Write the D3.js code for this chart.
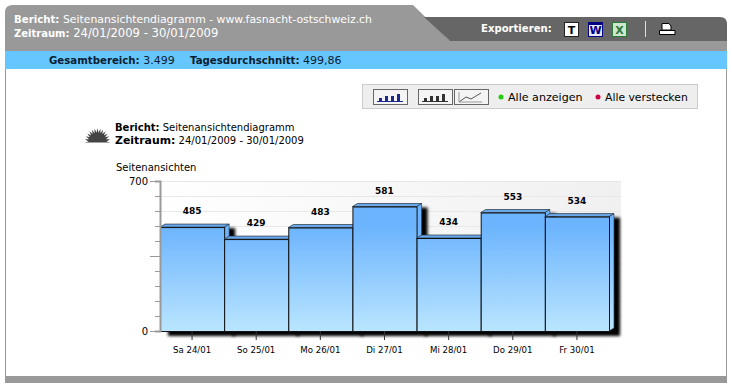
<!DOCTYPE html>
<html>
<head>
<meta charset="utf-8">
<script src="https://cdn.jsdelivr.net/npm/d3@7"></script>
<style>
html,body{margin:0;padding:0;background:#fff;overflow:hidden}
text{font-family:"DejaVu Sans",sans-serif;font-size:10px;fill:#000}
</style>
</head>
<body>
<div id="chart"></div>
<script>
// chart values
var days = ["Sa 24/01","So 25/01","Mo 26/01","Di 27/01","Mi 28/01","Do 29/01","Fr 30/01"];
var views = [485,429,483,581,434,553,534];
var yLabels = [0,700];
var yMajor = [0,350,700];
var yTicks = [0,70,140,210,280,350,420,490,560,630,700];

var W = 732, H = 389;
var svg = d3.select("#chart").append("svg").attr("width",W).attr("height",H);
var defs = svg.append("defs");

var barGrad = defs.append("linearGradient").attr("id","barGrad")
    .attr("gradientUnits","userSpaceOnUse")
    .attr("x1",0).attr("x2",0).attr("y1",181).attr("y2",331);
barGrad.append("stop").attr("offset","0.3").attr("stop-color","#6cb4fd");
barGrad.append("stop").attr("offset","1").attr("stop-color","#bae5ff");

var plotGrad = defs.append("linearGradient").attr("id","plotGrad");
plotGrad.append("stop").attr("offset","0").attr("stop-color","#ffffff");
plotGrad.append("stop").attr("offset","1").attr("stop-color","#f0f0f0");

var blur = defs.append("filter").attr("id","blur").attr("x","-15%").attr("y","-15%").attr("width","130%").attr("height","130%");
blur.append("feGaussianBlur").attr("stdDeviation",1.5);

// page frame
svg.append("rect").attr("x",5).attr("y",40).attr("width",722).attr("height",343).attr("fill","#999");
svg.append("rect").attr("x",6).attr("y",69).attr("width",720).attr("height",307).attr("fill","#fff");
svg.append("path").attr("d","M5 41V12Q5 5 13 5H413L450 41Z").attr("fill","#999");
svg.append("path").attr("d","M424 17H720Q727 17 727 24V41H450Z").attr("fill","#666");
svg.append("rect").attr("x",5).attr("y",51).attr("width",722).attr("height",18).attr("fill","#66c6ff");

function twoPart(g,x,y,bold,normal,boldSize,size,col){
    var t = g.append("text").attr("x",x).attr("y",y).style("fill",col);
    t.append("tspan").attr("font-weight","bold").style("font-size",boldSize+"px").text(bold);
    t.append("tspan").style("font-size",size+"px").text(" "+normal);
}
var head = svg.append("g");
twoPart(head,14,23,"Bericht:","Seitenansichtendiagramm - www.fasnacht-ostschweiz.ch",10.2,10.85,"#fff");
twoPart(head,14,37,"Zeitraum:","24/01/2009 - 30/01/2009",10,11.6,"#fff");
twoPart(head,49,64,"Gesamtbereich:","3.499",10.2,11,"#0a2030");
twoPart(head,190,64,"Tagesdurchschnitt:","499,86",10.2,11,"#0a2030");
head.append("text").attr("x",481).attr("y",32).attr("font-weight","bold").style("font-size","10.1px").style("fill","#fff").text("Exportieren:");

// export icons
function icon(x,fill,stroke,letter,col){
    svg.append("rect").attr("x",x+.5).attr("y",22.5).attr("width",14).attr("height",14).attr("fill",fill).attr("stroke",stroke);
    svg.append("text").attr("x",x+7.5).attr("y",34).attr("text-anchor","middle").attr("font-weight","bold").style("font-size","11px").style("fill",col).text(letter);
}
icon(564,"#fff","#222","T","#000");
icon(588,"#e8e8ff","#000080","W","#000080");
svg.append("rect").attr("x",588).attr("y",22).attr("width",15).attr("height",3).attr("fill","#000080");
icon(612,"#cfe6cf","#2a7a3a","X","#2a7a3a");
svg.append("line").attr("x1",645.5).attr("x2",645.5).attr("y1",21).attr("y2",37).attr("stroke","#ddd");
svg.append("path").attr("d","M662 23.5H669L671 26V30H662Z").attr("fill","#fff").attr("stroke","#000");
svg.append("path").attr("d","M659.5 30.5H675V34.5H659.5Z").attr("fill","#fff").attr("stroke","#000");

// toolbar
svg.append("rect").attr("x",362.5).attr("y",84.5).attr("width",335).attr("height",24).attr("fill","#eee").attr("stroke","#ccc");
function button(x,w,kind){
    svg.append("rect").attr("x",x+.5).attr("y",89.5).attr("width",w).attr("height",15).attr("fill","#f4f4f4").attr("stroke","#666");
    if(kind==="line"){
        svg.append("path").attr("d",`M${x+5} 102L${x+12} 97L${x+17} 99L${x+27} 93`).attr("fill","none").attr("stroke","#555");
        svg.append("path").attr("d",`M${x+5} 92V102H${x+28}`).attr("fill","none").attr("stroke","#999");
    } else {
        var c = kind==="blue" ? "#1c2a90" : "#333";
        [6,12,18,24].forEach(function(o,i){
            var h = [3,5,5,7][i];
            svg.append("rect").attr("x",x+o).attr("y",101-h).attr("width",3).attr("height",h).attr("fill",c);
        });
        svg.append("line").attr("x1",x+4).attr("x2",x+30).attr("y1",101.5).attr("y2",101.5).attr("stroke",c);
    }
}
button(373,34,"blue");
button(418,34,"dark");
button(454,34,"line");
svg.append("circle").attr("cx",501).attr("cy",97).attr("r",2.5).attr("fill","#22cc11");
svg.append("text").attr("x",508).attr("y",100.5).style("font-size","11.1px").text("Alle anzeigen");
svg.append("circle").attr("cx",598).attr("cy",97).attr("r",2.5).attr("fill","#cc0044");
svg.append("text").attr("x",605).attr("y",100.5).style("font-size","10.8px").text("Alle verstecken");

// title block
var rays = d3.range(0,29).map(function(i){
    var a = Math.PI*i/28, r = i%2 ? 9 : 13;
    return [97.5+r*Math.cos(a),142.5-r*Math.sin(a)*1.1];
});
svg.append("path").attr("d","M"+rays.join("L")+"Z").attr("fill","#444");
twoPart(svg,115,131,"Bericht:","Seitenansichtendiagramm",10,10,"#000");
twoPart(svg,115,144,"Zeitraum:","24/01/2009 - 30/01/2009",10.9,10,"#000");
svg.append("text").attr("x",116).attr("y",171).text("Seitenansichten");

// scales
var x = d3.scaleBand().domain(days).range([160,609]);
var y = d3.scaleLinear().domain([0,700]).range([331,181]);
var depthX = 5, depthY = 3;

var plot = svg.append("g");
plot.append("rect").attr("x",160).attr("y",y(700)).attr("width",461).attr("height",y(0)-y(700)).attr("fill","url(#plotGrad)");
plot.selectAll(".grid").data(yTicks.filter(function(d){return d>0;})).enter().append("line")
    .attr("x1",160).attr("x2",621).attr("y1",function(d){return y(d)+.5;}).attr("y2",function(d){return y(d)+.5;})
    .attr("stroke","#e8e8e8");

// shadow behind the bars
plot.selectAll(".shadow").data(views).enter().append("rect")
    .attr("x",function(d,i){return x(days[i])+8;})
    .attr("y",function(d){return y(d)+1;})
    .attr("width",x.bandwidth()+3)
    .attr("height",function(d){return y(0)-y(d)+4;})
    .attr("fill","#000").attr("filter","url(#blur)");

// bars with a fake 3d top and side
var bars = plot.selectAll(".bar").data(views).enter().append("g").attr("class","bar");
bars.append("path")
    .attr("d",function(d,i){
        var x0=x(days[i]),x1=x0+x.bandwidth(),t=y(d);
        return `M${x1} ${t}L${x1+depthX} ${t-depthY}V${y(0)-depthY}L${x1} ${y(0)}Z`;
    })
    .attr("fill","url(#barGrad)").attr("stroke","#345").attr("stroke-width",.7);
bars.append("path")
    .attr("d",function(d,i){
        var x0=x(days[i]),x1=x0+x.bandwidth(),t=y(d);
        return `M${x0} ${t}L${x0+depthX} ${t-depthY}H${x1+depthX}L${x1} ${t}Z`;
    })
    .attr("fill","#6aa8ea").attr("stroke","#234").attr("stroke-width",.7);
bars.append("rect")
    .attr("x",function(d,i){return x(days[i])+.5;})
    .attr("y",function(d){return y(d)+.5;})
    .attr("width",x.bandwidth())
    .attr("height",function(d){return y(0)-y(d);})
    .attr("fill","url(#barGrad)").attr("stroke","#111").attr("stroke-width",1);

bars.append("text")
    .attr("x",function(d,i){return x(days[i])+x.bandwidth()/2;})
    .attr("y",function(d){return y(d)-13;})
    .attr("text-anchor","middle").attr("font-weight","bold").style("font-size","9px")
    .text(function(d){return d;});

// axes
var yAxis = d3.axisLeft(y).tickValues(yTicks).tickSize(5)
    .tickFormat(function(d){return yLabels.indexOf(d)>=0 ? d : "";});
var gy = svg.append("g").attr("transform","translate(160,0)").call(yAxis);
gy.select(".domain").attr("stroke","#999").attr("stroke-width",2);
gy.selectAll("line").attr("stroke","#999").attr("stroke-width",1);
gy.selectAll(".tick").filter(function(d){return yMajor.indexOf(d)>=0;}).select("line").attr("x2",-10);
gy.selectAll("text").attr("x",-12).style("font-size","10px").attr("fill","#000");

var xAxis = d3.axisBottom(x).tickSize(9).tickPadding(7);
var gx = svg.append("g").attr("transform","translate(0,331)").call(xAxis);
gx.select(".domain").remove();
gx.selectAll("line").attr("stroke","#333");
gx.selectAll("text").style("font-size","8.6px").attr("fill","#000");
</script>
</body>
</html>
